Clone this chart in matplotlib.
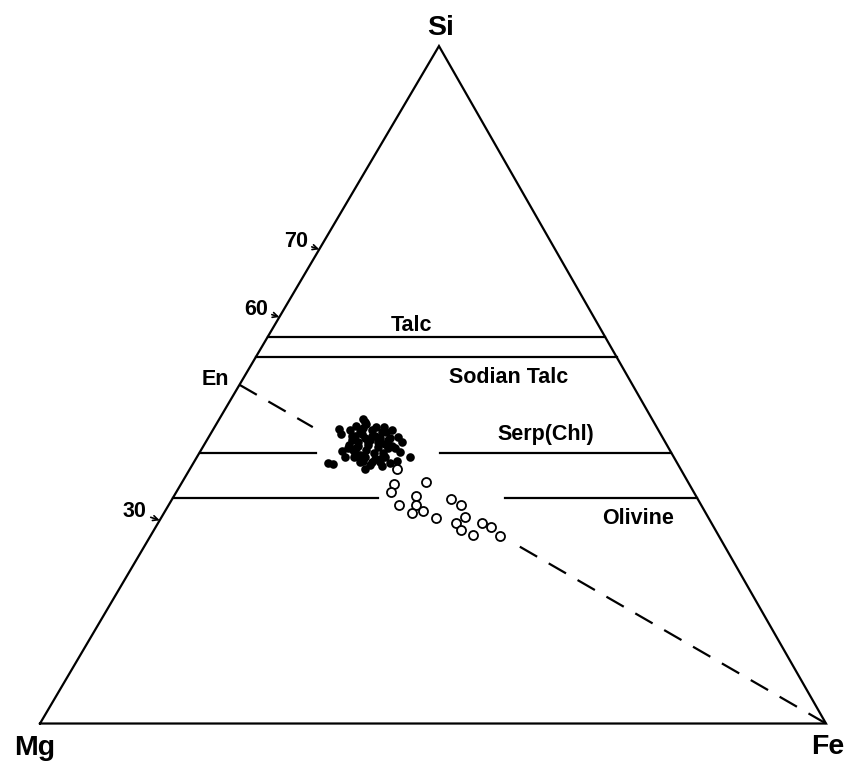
import numpy as np
import matplotlib.pyplot as plt

plt.rcParams['font.family'] = ['Liberation Sans', 'DejaVu Sans']

# compositions in atomic % : Si and Fe given, Mg = 100 - Si - Fe
talc_si = 57.1
sodian_talc_si = 54.1
serp_si = 40.0
olivine_si = 33.3
en_si = 50.0
tick_si = [70, 60, 30]

# filled symbols
solid_si = [45.0, 43.5, 42.7, 43.8, 42.3, 41.6, 40.1, 39.3, 40.2, 39.3,
            38.4, 38.3, 37.5, 38.0, 38.8, 38.4, 40.3, 39.9,
            42.5, 43.0, 42.2, 41.8, 41.5, 41.1, 42.5, 42.1, 41.8, 43.6,
            43.3, 40.3, 39.6, 40.0, 40.8, 41.2, 43.3, 41.8, 40.9, 40.6,
            38.8, 38.6, 41.1, 44.5, 43.0, 39.4, 39.1,
            43.9, 44.2, 43.7, 42.4, 42.7, 42.4, 43.0, 42.1, 40.9, 41.5,
            41.5, 40.6, 40.0, 39.4, 39.1, 39.4, 40.6, 38.1, 38.6, 38.6,
            40.6, 43.3]
solid_fe = [18.3, 15.9, 16.6, 21.5, 24.1, 24.9, 25.5, 27.1, 18.0, 18.8,
            17.2, 17.9, 22.3, 24.2, 25.7, 25.0, 19.4, 23.4,
            18.5, 18.9, 19.9, 20.8, 19.4, 20.9, 21.1, 21.9, 18.5, 18.9,
            20.3, 21.0, 20.6, 22.2, 22.3, 23.0, 17.5, 23.1, 24.0, 19.6,
            21.4, 22.7, 18.4, 18.7, 22.2, 19.9, 23.4,
            17.9, 19.1, 20.6, 18.2, 19.3, 20.7, 21.7, 23.2, 19.7, 20.7,
            21.9, 23.7, 19.8, 21.3, 22.8, 23.9, 24.5, 22.6, 23.7, 21.1,
            18.6, 22.8]

# open symbols
open_si = [37.5, 35.3, 35.6, 34.1, 33.6, 33.2, 32.3, 32.2, 32.3, 31.1,
           31.3, 30.4, 30.5, 29.6, 28.5, 29.6, 29.0, 27.8, 27.7]
open_fe = [26.4, 27.1, 31.0, 27.4, 30.8, 35.4, 37.2, 29.3, 31.5, 31.5,
           32.8, 34.9, 38.6, 37.9, 39.1, 41.2, 42.7, 41.0, 44.5]

APEX = 0.5076


def tern(si, fe):
    si = np.asarray(si, dtype=float) / 100.
    fe = np.asarray(fe, dtype=float) / 100.
    return fe + si * APEX, si * np.sqrt(3) / 2.


def si_line(ax, si, r0, r1, **kw):
    # line of constant Si, r = Fe/(Fe+Mg)
    r = np.array([r0, r1])
    x, y = tern([si, si], r * (100 - si))
    ax.plot(x, y, **kw)


fig = plt.figure(figsize=(8.45, 7.62), dpi=100)
ax = fig.add_axes([0, 0, 1, 1])
ax.set_xlim(-0.0509, 1.0242)
ax.set_ylim(-0.0492, 0.9249)
ax.axis('off')

lw = 1.6
tx, ty = tern([0, 100, 0, 0], [0, 0, 100, 0])
ax.plot(tx, ty, 'k', lw=lw, solid_joinstyle='miter')

si_line(ax, talc_si, 0, 1, color='k', lw=lw)
si_line(ax, sodian_talc_si, 0, 1, color='k', lw=lw)
si_line(ax, serp_si, 0, 0.246, color='k', lw=lw)
si_line(ax, serp_si, 0.51, 1, color='k', lw=lw)
si_line(ax, olivine_si, 0, 0.391, color='k', lw=lw)
si_line(ax, olivine_si, 0.633, 1, color='k', lw=lw)

# En - Fe join
for t0, t1 in [(0, 0.125), (0.478, 1)]:
    t = np.array([t0, t1])
    dx, dy = tern(en_si * (1 - t), 100 * t)
    ax.plot(dx, dy, color='k', lw=lw, dashes=(9, 6))

sx, sy = tern(solid_si, solid_fe)
ax.plot(sx, sy, 'o', color='k', ms=6.2, mew=0, zorder=4)
ox, oy = tern(open_si, open_fe)
ax.plot(ox, oy, 'o', mfc='white', mec='k', ms=6.5, mew=1.3, zorder=5)

big = dict(fontsize=20.5, fontweight='bold', ha='center', va='baseline',
           textcoords='offset points')
ax.annotate('Si', tern(100, 0), xytext=(1.5, 8), **big)
ax.annotate('Mg', tern(0, 0), xytext=(-4, -23), **big)
ax.annotate('Fe', tern(0, 100), xytext=(1, -22), **big)

lab = dict(fontsize=15.5, fontweight='bold', ha='center', va='baseline')
ax.text(*tern(58.0, 17.8), 'Talc', **lab)
ax.text(*tern(50.2, 34.1), 'Sodian Talc', **lab)
ax.text(*tern(41.8, 43.2), 'Serp(Chl)', **lab)
ax.text(*tern(29.5, 61.1), 'Olivine', **lab)
ax.annotate('En', tern(en_si, 0), xytext=(-17, 0), textcoords='offset points',
            **lab)

tick_off = {70: (-17, 1.5), 60: (-17, 1.5), 30: (-18, 2)}
for s in tick_si:
    ax.annotate(str(s), tern(s, 0), xytext=tick_off[s],
                textcoords='offset points', **lab,
                arrowprops=dict(arrowstyle='->', lw=1.2, color='k',
                                shrinkA=1, shrinkB=0,
                                mutation_scale=9))

fig.savefig('out.png', dpi=100)
